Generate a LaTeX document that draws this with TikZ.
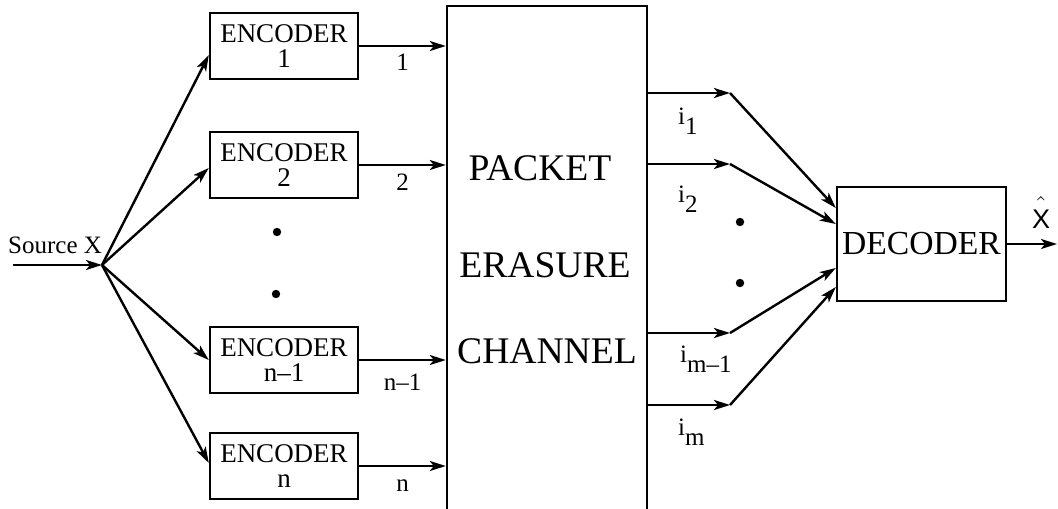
\documentclass[tikz,border=0pt]{standalone}
\usepackage{fontspec}
\setmainfont{Liberation Serif}
\setsansfont{Liberation Sans}
\usetikzlibrary{arrows.meta,calc}
\newcommand\lowsub[1]{\raisebox{-5pt}{#1}}
\begin{document}
\begin{tikzpicture}[x=0.5pt,y=-0.5pt,line width=1.2pt,
  arr/.style={-{Stealth[length=8pt,width=5pt,inset=2pt]}},
  encbox/.style={draw, line width=1.2pt, minimum width=74pt, minimum height=33pt,
    inner sep=0pt, align=center, font=\fontsize{13.5}{12.8}\selectfont},
  lbl/.style={font=\fontsize{12.5}{12.5}\selectfont, inner sep=0pt},
  chtext/.style={font=\fontsize{18.8}{18.8}\selectfont, inner sep=0pt, anchor=base},
  dotn/.style={circle, fill, inner sep=0pt, minimum size=4.2pt},
]
\useasboundingbox (0,0) rectangle (1058,508);

% source
\node[anchor=base west, font=\fontsize{12.5}{12.5}\selectfont, inner sep=0pt] (srclbl) at (7,253) {Source X};
\coordinate (src) at (13,265);
\coordinate (j) at (102,265);

% encoders
\node[encbox] (e1) at (284,46) {ENCODER\\1};
\node[encbox] (e2) at (284,165) {ENCODER\\2};
\node[encbox] (e3) at (284,360) {ENCODER\\n--1};
\node[encbox] (e4) at (284,466) {ENCODER\\n};

\node[dotn] (ld1) at (277,232) {};
\node[dotn] (ld2) at (276,294) {};

% channel
\begin{scope}
\clip (0,0) rectangle (1058,508);
\node[draw, line width=1.2pt, minimum width=100pt, minimum height=267pt, inner sep=0pt] (ch) at (547,273) {};
\end{scope}
\node[chtext] (t1) at (540,180) {PACKET};
\node[chtext] (t2) at (545,277) {ERASURE};
\node[chtext] (t3) at (547,363) {CHANNEL};

% decoder
\node[draw, line width=1.2pt, minimum width=84.5pt, minimum height=57pt, inner sep=0pt,
  font=\fontsize{16.8}{16.8}\selectfont] (dec) at (921.5,244) {DECODER};

% source arrows
\draw[arr] (src) -- (j);
\draw[arr] (j) -- ([yshift=-4.5pt]e1.west);
\draw[arr] (j) -- ([yshift=-1.5pt]e2.west);
\draw[arr] (j) -- (e3.west);
\draw[arr] (j) -- ([yshift=1.5pt]e4.west);

% encoder outputs
\draw[arr] (e1.east) -- node[lbl, anchor=base, yshift=-12.5pt] (n1) {1} (e1.east -| ch.west);
\draw[arr] (e2.east) -- node[lbl, anchor=base, yshift=-12.5pt] (n2) {2} (e2.east -| ch.west);
\draw[arr] (e3.east) -- node[lbl, anchor=base, yshift=-15pt] (n3) {n--1} (e3.east -| ch.west);
\draw[arr] (e4.east) -- node[lbl, anchor=base, yshift=-12.5pt] (n4) {n} (e4.east -| ch.west);

% channel outputs
\coordinate (b1) at (730,93);
\coordinate (b2) at (730,164);
\coordinate (b3) at (730,333);
\coordinate (b4) at (730,405);
\draw[arr] (b1 -| ch.east) -- (b1);
\draw[arr] (b2 -| ch.east) -- (b2);
\draw[arr] (b3 -| ch.east) -- (b3);
\draw[arr] (b4 -| ch.east) -- (b4);
\draw[arr] (b1) -- ([yshift=18pt]dec.west);
\draw[arr] (b2) -- ([yshift=10pt]dec.west);
\draw[arr] (b3) -- ([yshift=-12pt]dec.west);
\draw[arr] (b4) -- ([yshift=-21.5pt]dec.west);

\node[lbl, anchor=base west] (i1) at (677,125) {i\lowsub{1}};
\node[lbl, anchor=base west] (i2) at (677,202) {i\lowsub{2}};
\node[lbl, anchor=base west] (i3) at (679,362) {i\lowsub{m--1}};
\node[lbl, anchor=base west] (i4) at (677,435) {i\lowsub{m}};

\node[dotn] (rd1) at (740,222) {};
\node[dotn] (rd2) at (740,283) {};

% decoder output
\coordinate (xo) at (1057,245);
\draw[arr] (dec.east) -- (dec.east -| xo);
\node[anchor=base, inner sep=0pt, font=\sffamily\fontsize{13.5}{13.5}\selectfont] (xhat) at (1041,228)
  {$\hat{\mbox{X}\vphantom{\rule{0pt}{12pt}}}$};
\end{tikzpicture}
\end{document}
